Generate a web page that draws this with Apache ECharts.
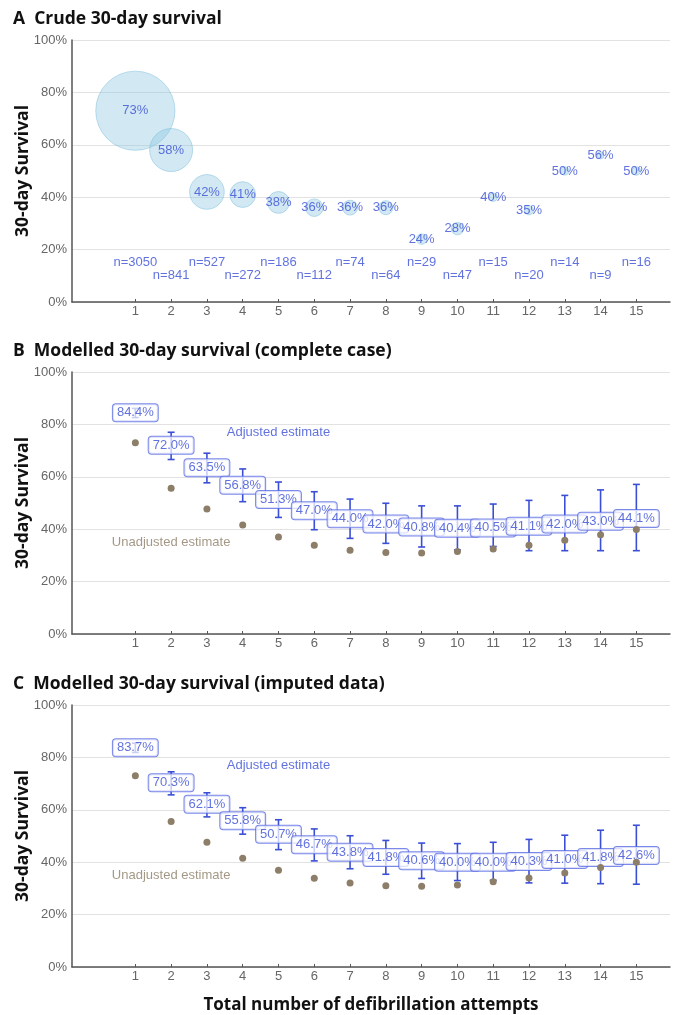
<!DOCTYPE html>
<html><head><meta charset="utf-8">
<script src="https://cdn.jsdelivr.net/npm/echarts@6/dist/echarts.min.js"></script>
<style>html,body{margin:0;padding:0;background:#fff}#c{width:677px;height:1015px}</style>
</head><body><div id="c"></div>
<script>
// ---- data ----
const attempts = [1,2,3,4,5,6,7,8,9,10,11,12,13,14,15];
const crudeSurvival = [73,58,42,41,38,36,36,36,24,28,40,35,50,56,50];
const crudeN = [3050,841,527,272,186,112,74,64,29,47,15,20,14,9,16];

const adjB   = [84.4,72.0,63.5,56.8,51.3,47.0,44.0,42.0,40.8,40.4,40.5,41.1,42.0,43.0,44.1];
const lowB   = [82.6,66.6,57.7,50.5,44.5,39.8,36.5,34.6,33.2,32.1,33.4,31.8,31.8,31.8,31.8];
const highB  = [86.1,77.0,69.0,63.0,58.0,54.3,51.5,49.9,48.9,48.9,49.6,51.0,52.9,55.0,57.1];
const unadjB = [73.0,55.6,47.7,41.6,37.0,33.9,32.0,31.1,30.9,31.5,32.4,33.9,35.8,37.9,39.9];

const adjC   = [83.7,70.3,62.1,55.8,50.7,46.7,43.8,41.8,40.6,40.0,40.0,40.3,41.0,41.8,42.6];
const lowC   = [81.9,65.7,57.3,50.7,44.8,40.5,37.5,35.4,33.8,33.0,33.1,32.1,32.0,31.8,31.6];
const highC  = [85.4,74.5,66.5,60.8,56.2,52.7,50.1,48.3,47.3,47.1,47.6,48.7,50.3,52.2,54.1];
const unadjC = [73.0,55.5,47.6,41.5,36.9,33.9,32.1,31.0,30.8,31.3,32.5,34.0,35.9,38.0,40.0];

const yTicks = [0,20,40,60,80,100];
const titles = ['A  Crude 30-day survival','B  Modelled 30-day survival (complete case)','C  Modelled 30-day survival (imputed data)'];
const yName = '30-day Survival';
const xName = 'Total number of defibrillation attempts';
const adjNote = {text:'Adjusted estimate', x:5, y:77};
const unadjNote = {text:'Unadjusted estimate', x:2, y:35};
const nLabelY = [15,10];

// ---- style ----
const BLUE = '#3a4fd6';
const BROWN = '#8c7e68';
const AX = '#555';
const FONT = "'Liberation Sans', Arial, sans-serif";
const TFONT = "'Open Sans', sans-serif";

const gridTops = [40,372,705];
const grid = gridTops.map(t => ({left:72, top:t, width:598, height:262}));

const xAxis = gridTops.map((t,i) => ({
  type:'value', gridIndex:i, min:-0.77, max:15.94,
  axisLine:{show:true, onZero:false, lineStyle:{color:AX, width:1.5}},
  axisTick:{show:true, customValues:attempts, inside:true, length:3, lineStyle:{color:AX}},
  axisLabel:{customValues:attempts, color:'#666', fontSize:13, margin:3, fontFamily:FONT},
  splitLine:{show:false},
  name: i===2 ? xName : '', nameLocation:'middle', nameGap:30, nameMoveOverlap:false,
  nameTextStyle:{fontFamily:TFONT, fontWeight:'bold', fontSize:17, color:'#111'}
}));
const yAxis = gridTops.map((t,i) => ({
  type:'value', gridIndex:i, min:0, max:100, interval:20,
  axisLine:{show:true, onZero:false, lineStyle:{color:AX, width:1.5}},
  axisTick:{show:false},
  axisLabel:{color:'#666', fontSize:13, margin:5, fontFamily:FONT, formatter:v=>v+'%'},
  splitLine:{show:true, lineStyle:{color:'#e2e2e2', width:1.2}},
  name:yName, nameLocation:'middle', nameGap:40, nameMoveOverlap:false,
  nameTextStyle:{fontFamily:TFONT, fontWeight:'bold', fontSize:17.5, color:'#111'}
}));

function bubbleSize(v){ return 1.38*Math.sqrt(v[2]) + 3; }

function errRender(params, api){
  const x = api.value(0), lo = api.value(1), hi = api.value(2);
  const a = api.coord([x, lo]), b = api.coord([x, hi]);
  const w = 3.5;
  const style = {stroke:BLUE, lineWidth:1.6};
  return {type:'group', children:[
    {type:'line', shape:{x1:a[0],y1:a[1],x2:b[0],y2:b[1]}, style},
    {type:'line', shape:{x1:b[0]-w,y1:b[1],x2:b[0]+w,y2:b[1]}, style},
    {type:'line', shape:{x1:a[0]-w,y1:a[1],x2:a[0]+w,y2:a[1]}, style}
  ]};
}

const series = [];
// Panel A
series.push({
  type:'scatter', xAxisIndex:0, yAxisIndex:0, z:2,
  data: attempts.map((x,i)=>[x, crudeSurvival[i], crudeN[i]]),
  symbolSize: bubbleSize,
  itemStyle:{color:'rgba(139,198,224,0.49)', borderColor:'rgba(110,182,216,0.55)', borderWidth:1},
  label:{show:true, position:'inside', color:BLUE, fontSize:13, fontFamily:FONT, formatter:p=>p.value[1]+'%'},
  emphasis:{disabled:true}, silent:true
});
series.push({
  type:'scatter', xAxisIndex:0, yAxisIndex:0, z:3,
  data: attempts.map((x,i)=>[x, nLabelY[i%2], crudeN[i]]),
  symbolSize:0,
  label:{show:true, position:'inside', color:BLUE, fontSize:13, fontFamily:FONT, formatter:p=>'n='+p.value[2]},
  silent:true
});

function modelled(idx, adj, lo, hi, un){
  series.push({
    type:'custom', xAxisIndex:idx, yAxisIndex:idx, z:1,
    data: attempts.map((x,i)=>[x, lo[i], hi[i]]),
    renderItem: errRender, silent:true
  });
  series.push({
    type:'scatter', xAxisIndex:idx, yAxisIndex:idx, z:3,
    data: attempts.map((x,i)=>[x, adj[i]]),
    symbolSize:0,
    label:{show:true, position:'inside', color:BLUE, fontSize:13, fontFamily:FONT,
      formatter:p=>p.value[1].toFixed(1)+'%',
      backgroundColor:'rgba(255,255,255,0.9)', borderColor:'#5a6be4', borderWidth:1,
      borderRadius:3, padding:[2,4,1,4], lineHeight:14},
    labelLayout:{hideOverlap:false}, silent:true
  });
  series.push({
    type:'scatter', xAxisIndex:idx, yAxisIndex:idx, z:4,
    data: attempts.map((x,i)=>[x, un[i]]),
    symbolSize:7, itemStyle:{color:BROWN, opacity:1}, silent:true
  });
  series.push({
    type:'scatter', xAxisIndex:idx, yAxisIndex:idx, z:5,
    data:[[adjNote.x, adjNote.y]], symbolSize:0,
    label:{show:true, position:'inside', color:BLUE, fontSize:13, fontFamily:FONT, formatter:adjNote.text},
    silent:true
  });
  series.push({
    type:'scatter', xAxisIndex:idx, yAxisIndex:idx, z:5,
    data:[[unadjNote.x, unadjNote.y]], symbolSize:0,
    label:{show:true, position:'inside', color:BROWN, fontSize:13, fontFamily:FONT, formatter:unadjNote.text},
    silent:true
  });
}
modelled(1, adjB, lowB, highB, unadjB);
modelled(2, adjC, lowC, highC, unadjC);

const title = titles.map((t,i)=>({
  text:t, left:8, top:[5,337,670][i],
  textStyle:{fontFamily:TFONT, fontWeight:'bold', fontSize:17.5, color:'#111'}
}));

const chart = echarts.init(document.getElementById('c'), null, {renderer:'canvas'});
chart.setOption({animation:false, backgroundColor:'#fff', title, grid, xAxis, yAxis, series});
</script></body></html>
